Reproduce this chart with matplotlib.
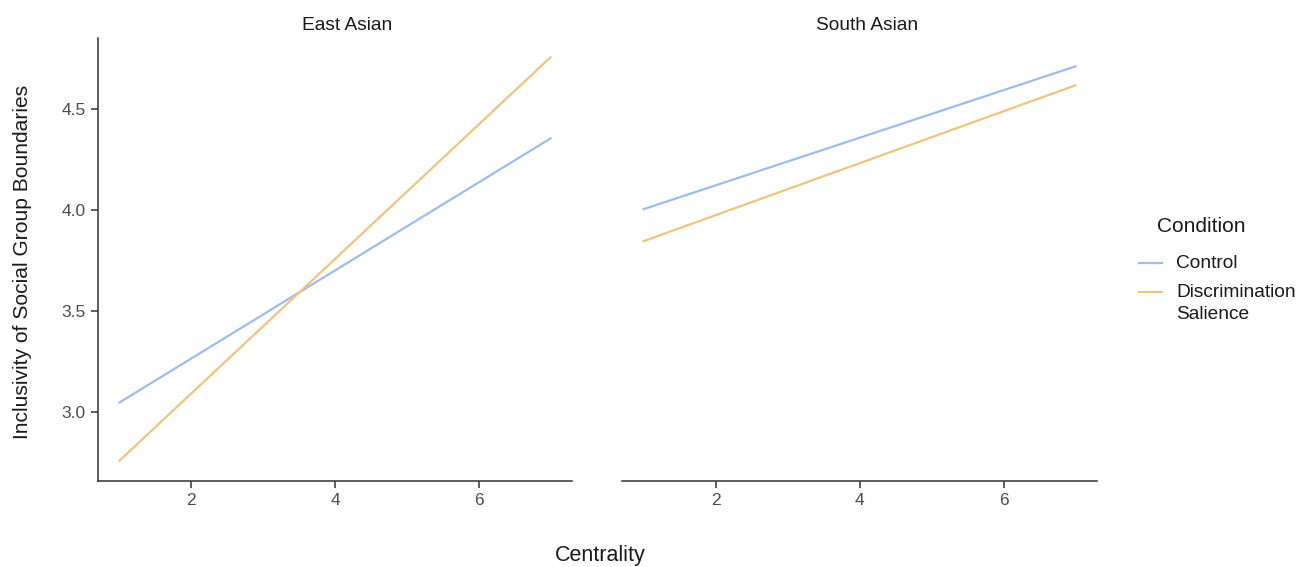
import matplotlib
matplotlib.use("Agg")
import matplotlib.pyplot as plt
from matplotlib.lines import Line2D

plt.rcParams["font.family"] = ["Liberation Sans", "DejaVu Sans"]

panels = ["East Asian", "South Asian"]
conditions = ["Control", "Discrimination\nSalience"]
colors = ["#9dbcf0", "#f0c47c"]
centrality = [1, 7]
# fitted values at centrality 1 and 7, per panel and condition
east_control = [3.045, 4.356]
east_discrim = [2.756, 4.759]
south_control = [4.005, 4.714]
south_discrim = [3.846, 4.620]

series = {
    "East Asian": [east_control, east_discrim],
    "South Asian": [south_control, south_discrim],
}

W, H = 1300, 567
fig = plt.figure(figsize=(13, 5.67), dpi=100)
ax1 = fig.add_axes([0.0754, 0.1517, 0.3646, 0.7813])
ax2 = fig.add_axes([0.4785, 0.1517, 0.3654, 0.7813])

title_x = {"East Asian": 0.525, "South Asian": 0.515}
for ax, name in zip([ax1, ax2], panels):
    for vals, col in zip(series[name], colors):
        ax.plot(centrality, vals, color=col, lw=1.6)
    ax.set_xlim(0.7, 7.3)
    ax.set_ylim(2.655, 4.855)
    ax.set_xticks([2, 4, 6])
    ax.set_yticks([3.0, 3.5, 4.0, 4.5])
    ax.set_yticklabels(["3.0", "3.5", "4.0", "4.5"])
    for s in ["top", "right"]:
        ax.spines[s].set_visible(False)
    for s in ["left", "bottom"]:
        ax.spines[s].set_color("#333333")
        ax.spines[s].set_linewidth(1.1)
    ax.tick_params(colors="#333333", labelcolor="#4d4d4d", labelsize=12.5,
                   length=5, width=1.1, direction="out", pad=4)
    ax.set_title(name, fontsize=13.8, color="#1a1a1a", pad=6, x=title_x[name])

ax2.spines["left"].set_visible(False)
ax2.tick_params(axis="y", left=False, labelleft=False)

fig.text(0.462, 0.021, "Centrality", ha="center", va="center", fontsize=15.5, color="#1a1a1a")
fig.text(0.017, 0.538, "Inclusivity of Social Group Boundaries", rotation=90,
         ha="center", va="center", fontsize=15.1, color="#1a1a1a")

# legend drawn by hand so the key sits on the first line of a two-line label
fig.text(1157 / W, 1 - 226 / H, "Condition", ha="left", va="center",
         fontsize=15, color="#1a1a1a")
key_y = [263, 292]
for lab, col, ky in zip(conditions, colors, key_y):
    fig.add_artist(Line2D([1139 / W, 1162 / W], [1 - ky / H, 1 - ky / H],
                          color=col, lw=1.6, transform=fig.transFigure))
    fig.text(1176 / W, 1 - (ky - 8) / H, lab, ha="left", va="top",
             fontsize=13.8, color="#1a1a1a", linespacing=1.35)

fig.savefig("out.png", dpi=100)
